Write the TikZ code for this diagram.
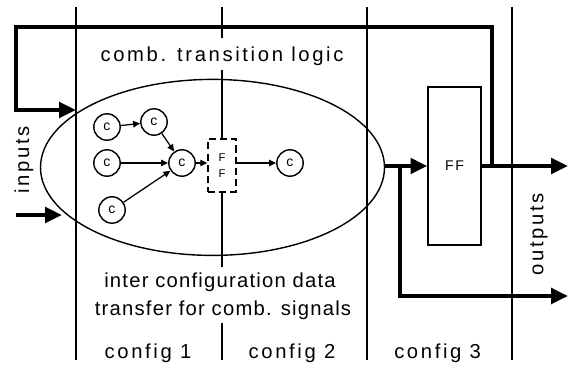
\documentclass[tikz,border=0pt]{standalone}
\usepackage{fontspec}
\setmainfont{Liberation Sans}
\newfontfamily\spacedfont[LetterSpace=13]{Liberation Sans}
\newfontfamily\lessspacedfont[LetterSpace=6]{Liberation Sans}
\usetikzlibrary{arrows.meta,shapes.geometric}

\tikzset{
    thinline/.style={line width=1pt},
    bus/.style={line width=3pt, -{Triangle[length=0.42cm,width=0.38cm]}},
    sig/.style={line width=0.9pt, -{Triangle[length=5pt,width=4.5pt]}},
    cnode/.style={circle, draw, line width=1pt, minimum size=0.66cm, inner sep=0pt, font=\fontsize{10}{12}\selectfont},
    lbl/.style={font=\spacedfont\fontsize{14.4}{17}\selectfont, inner sep=0pt},
    note/.style={font=\lessspacedfont\fontsize{14.4}{17}\selectfont, inner sep=0pt}
}

\begin{document}
\begin{tikzpicture}
    \useasboundingbox (0,0) rectangle (14.225,9.175);

    % config borders
    \draw[thinline] (1.9,9.0) -- (1.9,0.175);
    \draw[thinline] (9.175,9.0) -- (9.175,0.175);
    \draw[thinline] (12.8,9.0) -- (12.8,0.175);

    % comb. logic region
    \node[ellipse, draw, line width=1pt, minimum width=8.6cm, minimum height=4.4cm, inner sep=0pt] (logic) at (5.3125,4.99) {};

    \node[lbl, anchor=base] (title) at (5.55,7.625) {comb. transition logic};

    % combinational cells
    \node[cnode] (c1) at (2.675,6.0) {c};
    \node[cnode] (c2) at (3.85,6.125) {c};
    \node[cnode] (c3) at (2.675,5.1) {c};
    \node[cnode] (c4) at (4.55,5.1) {c};
    \node[cnode] (c5) at (2.8,3.925) {c};
    \node[cnode] (c6) at (7.25,5.1) {c};

    % transfer flip-flop between config 1 and 2
    \node[draw, dash pattern=on 5pt off 3pt, line width=1pt, minimum width=0.7cm, minimum height=1.325cm, inner sep=0pt, font=\fontsize{8}{10}\selectfont, align=center] (fbox) at (5.55,5.0375) {F\\[1pt]F};

    \draw[sig] (c1) -- (c2);
    \draw[sig] (c2) -- (c4);
    \draw[sig] (c3) -- (c4);
    \draw[sig] (c5) -- (c4);
    \draw[sig] (c4.east) -- (c4.east -| fbox.west);
    \draw[sig] (fbox.east |- c6) -- (c6);

    % split middle border
    \draw[thinline] (5.55,9.0) -- (5.55,8.225);
    \draw[thinline] (5.55,7.425) -- (fbox.north);
    \draw[thinline] (fbox.south) -- (5.55,2.5);
    \draw[thinline] (5.55,1.1) -- (5.55,0.175);

    \node[note, anchor=base] (xfer1) at (5.5,1.99) {inter configuration data};
    \node[note, anchor=base] (xfer2) at (5.575,1.28) {transfer for comb. signals};

    % state register
    \node[draw, line width=1pt, minimum width=1.325cm, minimum height=3.95cm, inner sep=0pt, font=\spacedfont\fontsize{10}{12}\selectfont] (ff) at (11.3625,5.025) {FF};

    % buses
    \coordinate (in0) at (0.4,3.8);
    \coordinate (in1) at (1.55,3.8);
    \coordinate (split) at (10.0,5.025);
    \coordinate (fb) at (12.3,5.025);
    \coordinate (fbin) at (1.9,6.425);
    \coordinate (out1) at (14.2,5.025);
    \coordinate (out2) at (14.2,1.775);

    \draw[bus] (ff.west -| logic.east) -- (ff.west);
    \draw[bus] (split) |- (out2);
    \draw[bus] (ff.east) -- (out1);
    \draw[bus] (fb) |- (0.4,8.5) |- (fbin);
    \draw[bus] (in0) -- (in1);

    \node[lbl, rotate=90] (inputs) at (0.6,5.175) {inputs};
    \node[lbl, rotate=90] (outputs) at (13.475,3.325) {outputs};

    % config labels
    \node[lbl, anchor=base] (cfg1) at (3.7,0.225) {config 1};
    \node[lbl, anchor=base] (cfg2) at (7.3,0.225) {config 2};
    \node[lbl, anchor=base] (cfg3) at (10.94,0.225) {config 3};
\end{tikzpicture}
\end{document}
